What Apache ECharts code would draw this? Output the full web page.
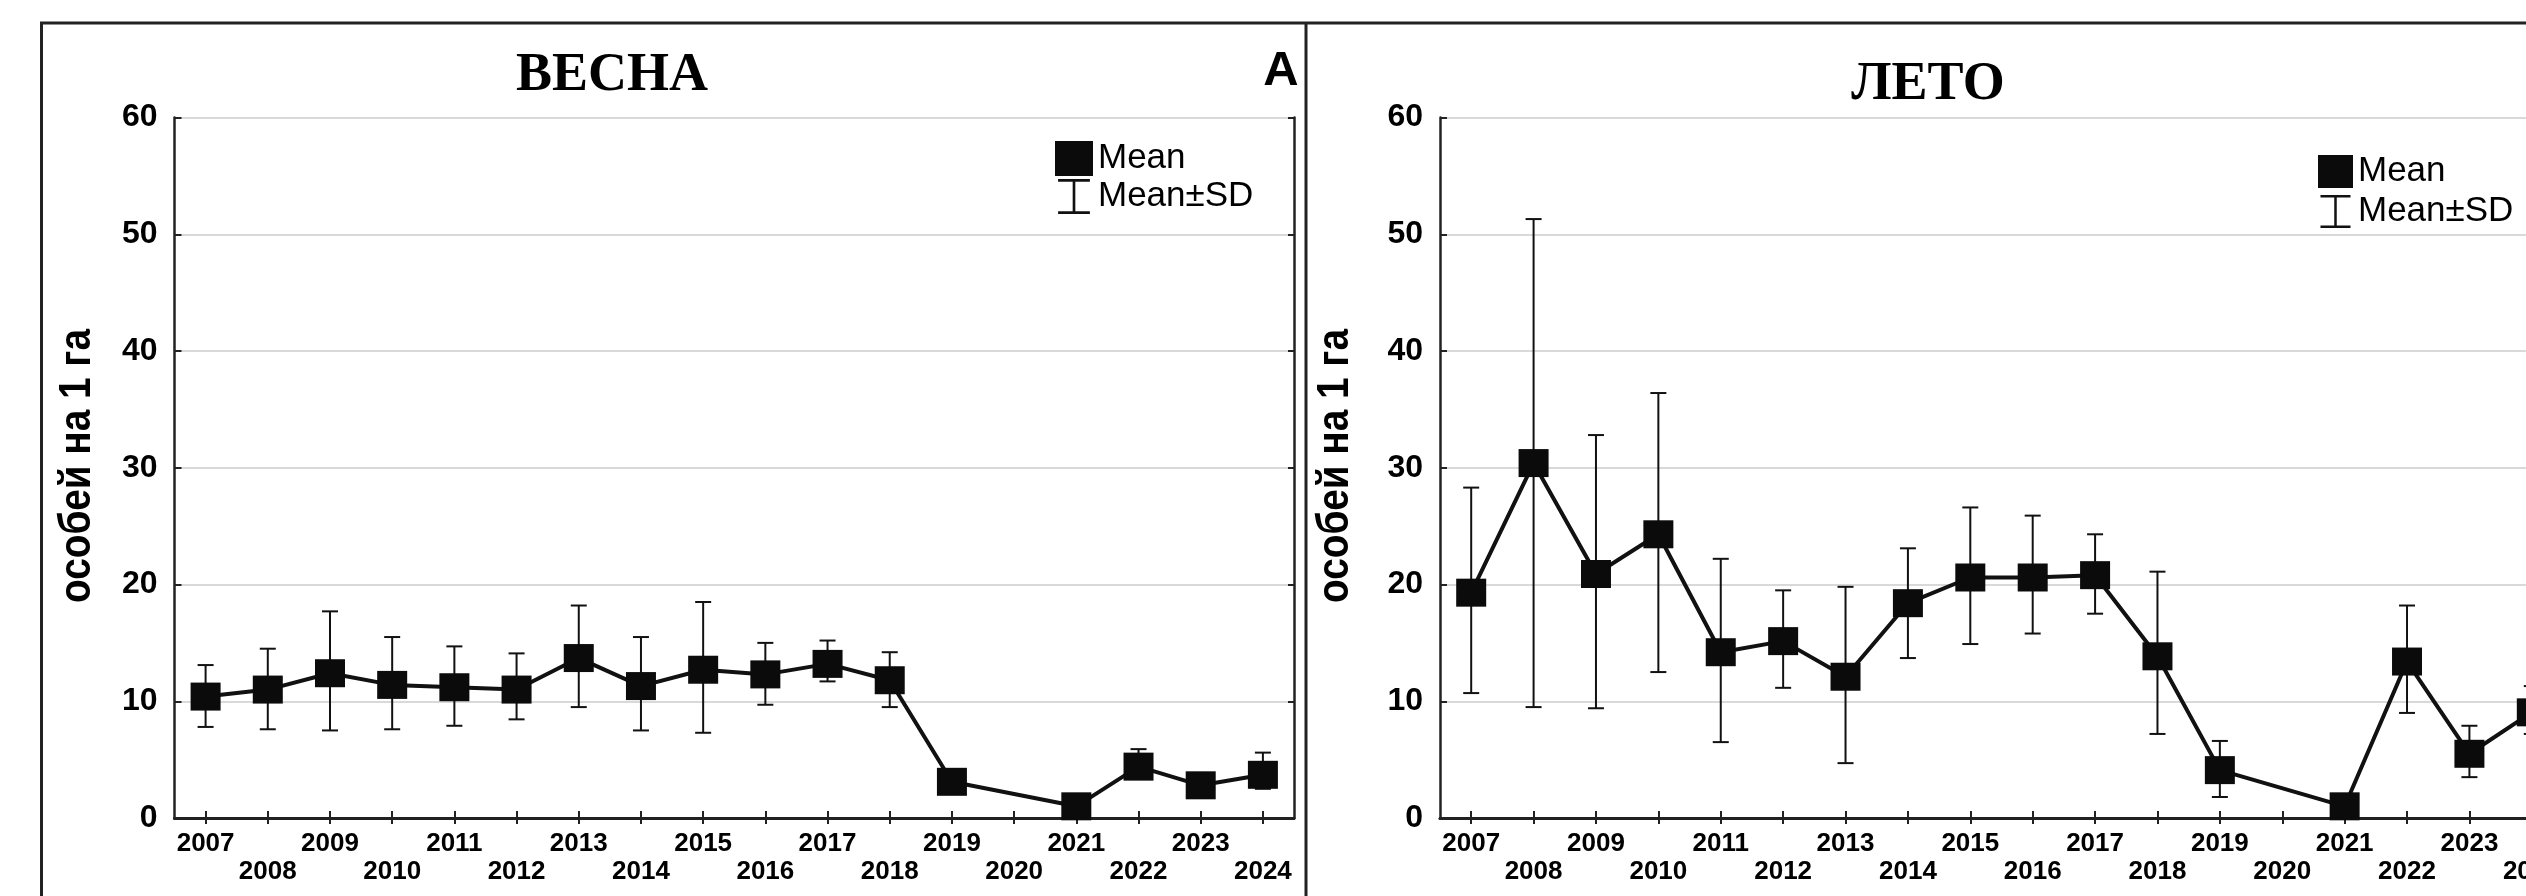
<!DOCTYPE html>
<html><head><meta charset="utf-8">
<script src="https://cdn.jsdelivr.net/npm/echarts@6/dist/echarts.min.js"></script>
<style>html,body{margin:0;padding:0;background:#fff}#c{width:2526px;height:896px}</style>
</head><body><div id="c"></div>
<script>
const years = ['2007','2008','2009','2010','2011','2012','2013','2014','2015','2016','2017','2018','2019','2020','2021','2022','2023','2024'];
const yTicks = [0, 10, 20, 30, 40, 50, 60];
const panelTitles = ['ВЕСНА', 'ЛЕТО'];
const yName = 'особей на 1 га';
const legendNames = ['Mean', 'Mean±SD'];

const springMean = [10.4, 11.0, 12.4, 11.4, 11.2, 11.0, 13.7, 11.3, 12.7, 12.3, 13.2, 11.8, 3.1, null, 1.0, 4.4, 2.8, 3.7];
const springHi   = [13.1, 14.5, 17.7, 15.5, 14.7, 14.1, 18.2, 15.5, 18.5, 15.0, 15.2, 14.2, 3.9, null, 1.5, 5.9, 3.6, 5.6];
const springLo   = [7.8, 7.6, 7.5, 7.6, 7.9, 8.45, 9.5, 7.5, 7.3, 9.7, 11.7, 9.5, 2.3, null, 0.5, 3.4, 2.0, 2.5];

const summerMean = [19.3, 30.4, 20.9, 24.3, 14.2, 15.15, 12.1, 18.4, 20.6, 20.6, 20.8, 13.85, 4.1, null, 1.0, 13.4, 5.5, 9.05];
const summerHi   = [28.3, 51.3, 32.8, 36.4, 22.2, 19.5, 19.8, 23.1, 26.6, 25.9, 24.3, 21.1, 6.6, null, 1.5, 18.2, 7.9, 11.3];
const summerLo   = [10.7, 9.5, 9.4, 12.5, 6.5, 11.15, 4.7, 13.7, 14.9, 15.8, 17.5, 7.2, 1.8, null, 0.5, 9.0, 3.5, 7.2];

const SANS = "'Liberation Sans', Arial, sans-serif";
const SERIF = "'Liberation Serif', 'Times New Roman', serif";
const INK = '#111';

function errData(lo, hi) {
  const out = [];
  for (let i = 0; i < years.length; i++) {
    if (lo[i] != null && hi[i] != null) out.push([i, lo[i], hi[i]]);
  }
  return out;
}

function errRender(params, api) {
  const x = api.value(0);
  const pHi = api.coord([x, api.value(2)]);
  const pLo = api.coord([x, api.value(1)]);
  const w = 8;
  const st = { stroke: INK, lineWidth: 2 };
  return {
    type: 'group',
    children: [
      { type: 'line', shape: { x1: pHi[0], y1: pHi[1], x2: pLo[0], y2: pLo[1] }, style: st },
      { type: 'line', shape: { x1: pHi[0] - w, y1: pHi[1], x2: pHi[0] + w, y2: pHi[1] }, style: st },
      { type: 'line', shape: { x1: pLo[0] - w, y1: pLo[1], x2: pLo[0] + w, y2: pLo[1] }, style: st }
    ]
  };
}

function xAxes(gi) {
  return [
    {
      gridIndex: gi, type: 'category', data: years, position: 'bottom', boundaryGap: true,
      axisLine: { show: true, lineStyle: { color: '#222', width: 3 } },
      axisTick: { show: true, inside: true, alignWithLabel: true, length: 7, lineStyle: { color: '#222', width: 2 } },
      axisLabel: {
        interval: 0, margin: 12, lineHeight: 28,
        formatter: (v, i) => (i % 2 ? '\n' + v : v),
        fontFamily: SANS, fontWeight: 'bold', fontSize: 26, color: '#000'
      },
      splitLine: { show: false }
    },
    {
      gridIndex: gi, type: 'category', data: years, position: 'top', boundaryGap: true,
      axisLine: { show: true, lineStyle: { color: '#222', width: 2.5 } },
      axisTick: { show: true, inside: true, alignWithLabel: true, length: 6, lineStyle: { color: '#222', width: 2 } },
      axisLabel: { show: false }, splitLine: { show: false }
    }
  ];
}

function yAxes(gi) {
  return [
    {
      gridIndex: gi, type: 'value', min: yTicks[0], max: yTicks[yTicks.length - 1], interval: yTicks[1] - yTicks[0],
      position: 'left',
      axisLine: { show: true, lineStyle: { color: '#222', width: 2.5 } },
      axisTick: { show: true, inside: true, length: 7, lineStyle: { color: '#222', width: 2 } },
      axisLabel: { margin: 17, fontFamily: SANS, fontWeight: 'bold', fontSize: 32, color: '#000' },
      splitLine: { show: true, lineStyle: { color: '#d9d9d9', width: 2 } }
    },
    {
      gridIndex: gi, type: 'value', min: yTicks[0], max: yTicks[yTicks.length - 1], interval: yTicks[1] - yTicks[0],
      position: 'right',
      axisLine: { show: true, lineStyle: { color: '#222', width: 2.5 } },
      axisTick: { show: true, inside: true, length: 6, lineStyle: { color: '#222', width: 2 } },
      axisLabel: { show: false }, splitLine: { show: false }
    }
  ];
}

function meanSeries(gi, data) {
  return {
    name: legendNames[0], type: 'line', xAxisIndex: gi * 2, yAxisIndex: gi * 2,
    data: data, connectNulls: true, symbol: 'rect', symbolSize: [30, 28],
    itemStyle: { color: '#0b0b0b' }, lineStyle: { color: INK, width: 4 },
    z: 4, animation: false
  };
}
function errSeries(gi, lo, hi) {
  return {
    name: legendNames[1], type: 'custom', xAxisIndex: gi * 2, yAxisIndex: gi * 2,
    data: errData(lo, hi), encode: { x: 0, y: [1, 2] }, renderItem: errRender,
    itemStyle: { color: INK }, z: 3, animation: false
  };
}

const ibeam = 'path://M0,0H30V2.5H0Z M13.75,0H16.25V33H13.75Z M0,30.5H30V33H0Z';

function yTitle(x) {
  return {
    type: 'text', x: x, y: 466, rotation: Math.PI / 2, scaleX: 0.86,
    style: { text: yName, font: 'bold 45px ' + SANS, fill: '#000', align: 'center', verticalAlign: 'middle' }
  };
}

const chart = echarts.init(document.getElementById('c'), null, { renderer: 'canvas' });
chart.setOption({
  backgroundColor: '#fff',
  animation: false,
  grid: [
    { left: 174.5, top: 117.5, width: 1119.5, height: 700.5, containLabel: false, outerBoundsMode: 'none' },
    { left: 1440, top: 117.5, width: 1123, height: 700.5, containLabel: false, outerBoundsMode: 'none' }
  ],
  xAxis: [...xAxes(0), ...xAxes(1)],
  yAxis: [...yAxes(0), ...yAxes(1)],
  legend: [
    {
      left: 1050, top: 136, orient: 'vertical', itemWidth: 38, itemHeight: 35, itemGap: 3,
      textStyle: { fontFamily: SANS, fontSize: 35, color: '#000' },
      data: [{ name: legendNames[0], icon: 'rect' }, { name: legendNames[1], icon: ibeam }],
      selectedMode: false
    },
    {
      left: 2313, top: 149, orient: 'vertical', itemWidth: 35, itemHeight: 33, itemGap: 5,
      textStyle: { fontFamily: SANS, fontSize: 35, color: '#000' },
      data: [{ name: legendNames[0], icon: 'rect' }, { name: legendNames[1], icon: ibeam }],
      selectedMode: false
    }
  ],
  graphic: [
    { type: 'line', shape: { x1: 40, y1: 23, x2: 2526, y2: 23 }, style: { stroke: '#222', lineWidth: 3 } },
    { type: 'line', shape: { x1: 41.5, y1: 22, x2: 41.5, y2: 896 }, style: { stroke: '#222', lineWidth: 3 } },
    { type: 'line', shape: { x1: 1306, y1: 22, x2: 1306, y2: 896 }, style: { stroke: '#222', lineWidth: 3 } },
    { type: 'text', x: 612, y: 76, style: { text: panelTitles[0], font: 'bold 54px ' + SERIF, fill: '#000', align: 'center', verticalAlign: 'middle' } },
    { type: 'text', x: 1928, y: 85, style: { text: panelTitles[1], font: 'bold 54px ' + SERIF, fill: '#000', align: 'center', verticalAlign: 'middle' } },
    { type: 'text', x: 1281, y: 71, style: { text: 'A', font: 'bold 49px ' + SANS, fill: '#000', align: 'center', verticalAlign: 'middle' } },
    yTitle(78), yTitle(1336)
  ],
  series: [
    errSeries(0, springLo, springHi), meanSeries(0, springMean),
    errSeries(1, summerLo, summerHi), meanSeries(1, summerMean)
  ]
});
</script></body></html>
